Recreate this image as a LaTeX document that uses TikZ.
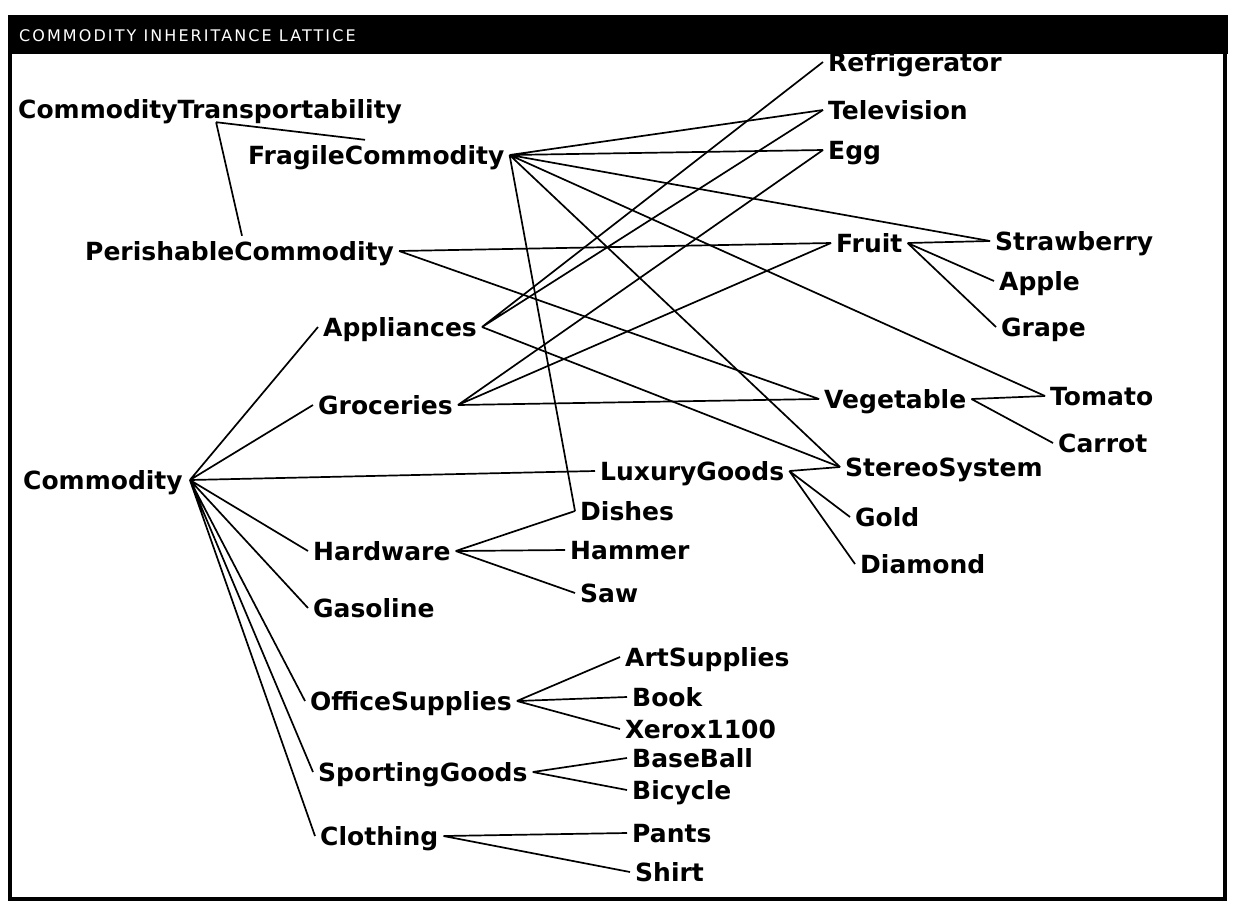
\documentclass[tikz,border=0pt]{standalone}
\usepackage{fontspec}
\setmainfont{DejaVu Sans}
\newfontfamily\titlefont[LetterSpace=13]{DejaVu Sans}
\usepackage{xcolor}
\usepackage{tikz}
\definecolor{screenblack}{HTML}{000000}

\begin{document}
\begin{tikzpicture}[x=1pt, y=-1pt,
    cls/.style={anchor=west, inner xsep=5pt, inner ysep=0pt,
                text height=18pt, text depth=0pt,
                font=\fontsize{25}{25}\selectfont\bfseries},
    link/.style={draw=screenblack, line width=1.7pt}]
  \useasboundingbox (0,0) rectangle (1233,906);
  % window frame and title bar
  \fill[screenblack] (8,15) rectangle (1228,54);
  \draw[screenblack, line width=4.5pt] (10,54) -- (10,899) -- (1225,899) -- (1225,54);
  \node[anchor=west, inner sep=0pt, text=white,
        font=\titlefont\fontsize{16}{16}\selectfont] (title) at (19,36)
        {COMMODITY INHERITANCE LATTICE};

  % classes
  \node[cls] (ctrans) at (13,109) {CommodityTransportability};
  \node[cls] (fragile) at (243,155) {FragileCommodity};
  \node[cls] (perish) at (80,251) {PerishableCommodity};
  \node[cls] (fridge) at (823,62) {Refrigerator};
  \node[cls] (tv) at (823,110) {Television};
  \node[cls] (egg) at (823,150) {Egg};
  \node[cls] (fruit) at (831,243) {Fruit};
  \node[cls] (strawb) at (990,241) {Strawberry};
  \node[cls] (apple) at (994,281) {Apple};
  \node[cls] (grape) at (996,327) {Grape};
  \node[cls] (appl) at (318,327) {Appliances};
  \node[cls] (groc) at (313,405) {Groceries};
  \node[cls] (veg) at (819,399) {Vegetable};
  \node[cls] (tomato) at (1045,396) {Tomato};
  \node[cls] (carrot) at (1053,443) {Carrot};
  \node[cls, inner xsep=7pt] (comm) at (16,480) {Commodity};
  \node[cls] (lux) at (595,471) {LuxuryGoods};
  \node[cls] (stereo) at (840,467) {StereoSystem};
  \node[cls] (dishes) at (575,511) {Dishes};
  \node[cls] (gold) at (850,517) {Gold};
  \node[cls] (hardw) at (308,551) {Hardware};
  \node[cls] (hammer) at (565,550) {Hammer};
  \node[cls] (diamond) at (855,564) {Diamond};
  \node[cls] (saw) at (575,593) {Saw};
  \node[cls] (gas) at (308,608) {Gasoline};
  \node[cls] (art) at (620,657) {ArtSupplies};
  \node[cls] (office) at (305,701) {OfficeSupplies};
  \node[cls] (book) at (627,697) {Book};
  \node[cls] (xerox) at (620,729) {Xerox1100};
  \node[cls] (baseball) at (627,758) {BaseBall};
  \node[cls] (sport) at (313,772) {SportingGoods};
  \node[cls] (bicycle) at (627,790) {Bicycle};
  \node[cls] (cloth) at (315,836) {Clothing};
  \node[cls] (pants) at (627,833) {Pants};
  \node[cls] (shirt) at (630,872) {Shirt};

  % links
  \coordinate (ctfoot) at ([xshift=6pt, yshift=-4pt]ctrans.south);
  \coordinate (fragtop) at ([xshift=122pt, yshift=6pt]fragile.north west);
  \coordinate (perishtop) at ([xshift=162pt, yshift=6pt]perish.north west);
  \draw[link] (ctfoot) -- (fragtop) (ctfoot) -- (perishtop);
  \draw[link] (fragile.east) -- (tv.west) (fragile.east) -- (egg.west)
              (fragile.east) -- (strawb.west) (fragile.east) -- (tomato.west)
              (fragile.east) -- (stereo.west) (fragile.east) -- (dishes.west);
  \draw[link] (perish.east) -- (fruit.west) (perish.east) -- (veg.west);
  \draw[link] (appl.east) -- (fridge.west) (appl.east) -- (tv.west)
              (appl.east) -- (stereo.west);
  \draw[link] (groc.east) -- (egg.west) (groc.east) -- (fruit.west)
              (groc.east) -- (veg.west);
  \draw[link] (fruit.east) -- (strawb.west) (fruit.east) -- (apple.west)
              (fruit.east) -- (grape.west);
  \draw[link] (veg.east) -- (tomato.west) (veg.east) -- (carrot.west);
  \draw[link] (comm.east) -- (appl.west) (comm.east) -- (groc.west)
              (comm.east) -- (lux.west) (comm.east) -- (hardw.west)
              (comm.east) -- (gas.west) (comm.east) -- (office.west)
              (comm.east) -- (sport.west) (comm.east) -- (cloth.west);
  \draw[link] (lux.east) -- (stereo.west) (lux.east) -- (gold.west)
              (lux.east) -- (diamond.west);
  \draw[link] (hardw.east) -- (dishes.west) (hardw.east) -- (hammer.west)
              (hardw.east) -- (saw.west);
  \draw[link] (office.east) -- (art.west) (office.east) -- (book.west)
              (office.east) -- (xerox.west);
  \draw[link] (sport.east) -- (baseball.west) (sport.east) -- (bicycle.west);
  \draw[link] (cloth.east) -- (pants.west) (cloth.east) -- (shirt.west);
\end{tikzpicture}
\end{document}
